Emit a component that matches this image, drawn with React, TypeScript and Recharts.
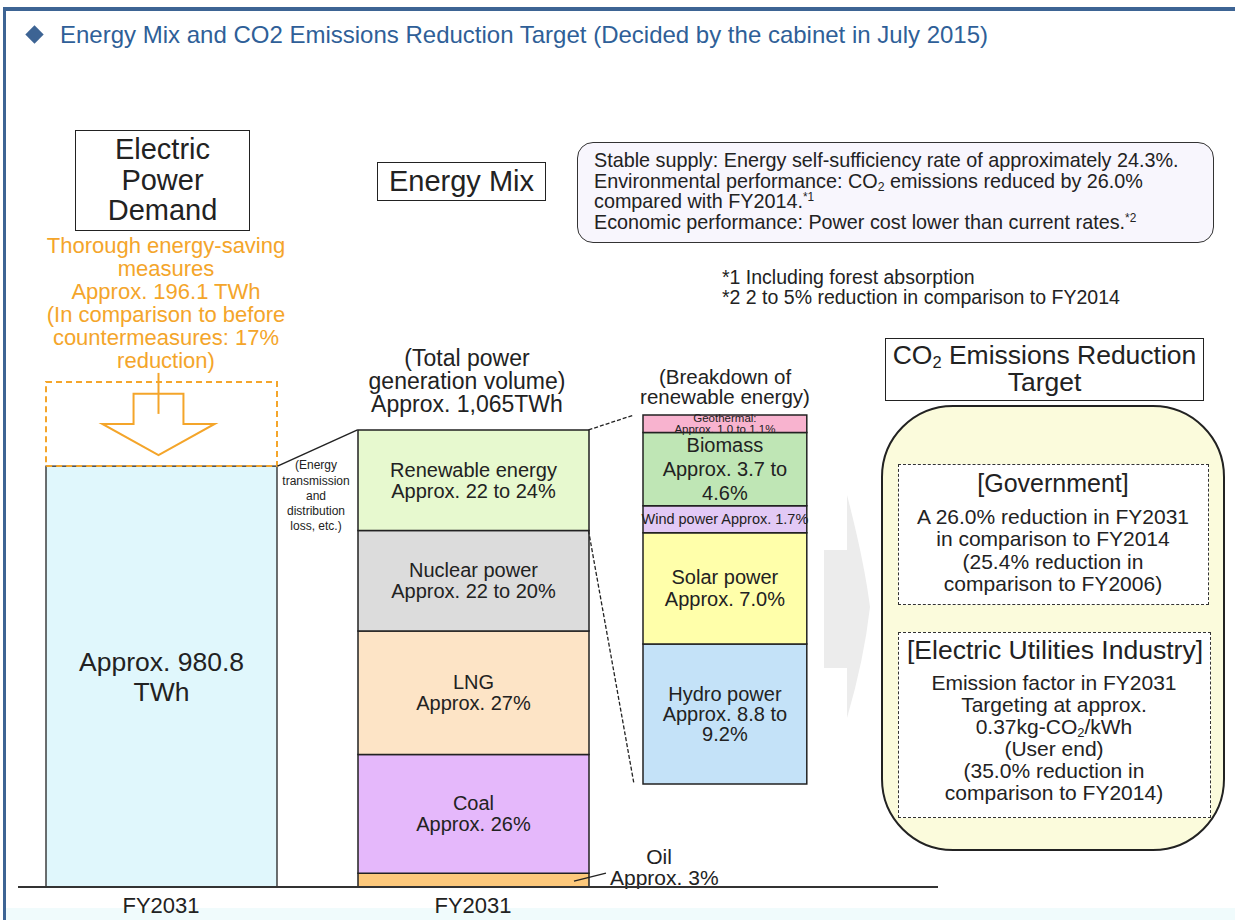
import React from "react"
import { Bar, BarChart, LabelList, XAxis, YAxis } from "recharts"

const FONT = '"Liberation Sans", Arial, sans-serif'
const ORANGE = "#f4a52a"
const NAVY = "#3d6494"

// Electric power demand (TWh)
const demandTWh = 980.8
const savingTWh = 196.1
const totalGenerationTWh = 1065

// Energy mix, share of total generation (%)
const mixKeys = ["oil", "coal", "lng", "nuclear", "renewable"]
const mixShares = [3, 26, 27, 22, 22]
const mixLabels = [
  ["Oil", "Approx. 3%"],
  ["Coal", "Approx. 26%"],
  ["LNG", "Approx. 27%"],
  ["Nuclear power", "Approx. 22 to 20%"],
  ["Renewable energy", "Approx. 22 to 24%"],
]
const mixColors = ["#fdc97c", "#e5b8fb", "#fde4c6", "#dcdcdc", "#e7f9cf"]

// Breakdown of renewable energy (%)
const renewKeys = ["hydro", "solar", "wind", "biomass", "geothermal"]
const renewShares = [8.8, 7.0, 1.7, 4.6, 1.1]
const renewLabels = [
  ["Hydro power", "Approx. 8.8 to", "9.2%"],
  ["Solar power", "Approx. 7.0%"],
  ["Wind power Approx. 1.7%"],
  ["Biomass", "Approx. 3.7 to", "4.6%"],
  ["Geothermal:", "Approx. 1.0 to 1.1%"],
]
const renewColors = ["#c4e2f8", "#ffffaa", "#e2c9f5", "#bfe6b5", "#f8b3cf"]
const renewFont = [20, 20, 14.5, 20, 11.5]
const renewGap = [20, 22, 14, 24, 11]

const tickLabels = ["FY2031", "FY2031"]

// chart tables
const mixRow: Record<string, any> = { name: "mix" }
mixKeys.forEach((k, i) => (mixRow[k] = (totalGenerationTWh * mixShares[i]) / 100))
const mainData = [{ name: "demand", demand: demandTWh, saving: savingTWh }, mixRow]

const renewRow: Record<string, any> = { name: "renew" }
renewKeys.forEach((k, i) => (renewRow[k] = renewShares[i]))
const renewData = [renewRow]

// layout of the two charts
const C1 = { left: 5, top: 362, width: 624, extraRight: 160, mTop: 10, plotH: 515, axisH: 32, max: 1200, bar: 231 }
const C2 = { left: 634, top: 415, width: 182, height: 369, pad: 14 }
const band1 = C1.width / mainData.length
const cx1 = (i: number) => C1.left + band1 * (i + 0.5)
const y1 = (v: number) => C1.top + C1.mTop + C1.plotH * (1 - v / C1.max)

const lineLabel = (lines: string[], size: number, gap: number) => (props: any) => {
  const vb = props.viewBox ?? props
  const { x, y, width, height } = vb
  if (!height || Math.abs(height) < 0.5) return null
  const cx = x + width / 2
  const top = y + height / 2 - (gap * (lines.length - 1)) / 2
  return (
    <g>
      {lines.map((l, i) => (
        <text key={i} x={cx} y={top + i * gap} textAnchor="middle" dominantBaseline="central" fontSize={size} fill="#222">
          {l}
        </text>
      ))}
    </g>
  )
}

const oilLabel = (props: any) => {
  const vb = props.viewBox ?? props
  const { x, y, width, height } = vb
  if (!height || Math.abs(height) < 0.5) return null
  const rx = x + width
  const cy = y + height / 2
  return (
    <g fontSize={21} fill="#222">
      <line x1={rx - 15} y1={cy + 1} x2={rx + 17} y2={cy - 7} stroke="#222" strokeWidth={1.3} />
      <text x={rx + 70} y={cy - 24} textAnchor="middle" dominantBaseline="central">
        {mixLabels[0][0]}
      </text>
      <text x={rx + 21} y={cy - 3} dominantBaseline="central">
        {mixLabels[0][1]}
      </text>
    </g>
  )
}

const SavingShape = (props: any) => {
  const { x, y, width, height, payload } = props
  if (!payload || payload.saving == null || !height) return null
  const cx = x + width / 2 - 3
  const sh = width * 0.108
  const hh = width * 0.243
  const ys = y + height * 0.14
  const yh = y + height * 0.5
  const yt = y + height * 0.87
  return (
    <g>
      <rect x={x} y={y} width={width} height={height} fill="none" stroke={ORANGE} strokeWidth={2} strokeDasharray="6 4" />
      <path
        d={`M${cx - sh},${ys} L${cx + sh},${ys} L${cx + sh},${yh} L${cx + hh},${yh} L${cx},${yt} L${cx - hh},${yh} L${cx - sh},${yh} Z`}
        fill="#fff"
        stroke={ORANGE}
        strokeWidth={2}
      />
      <line x1={cx} y1={y - 9} x2={cx} y2={y + height * 0.38} stroke={ORANGE} strokeWidth={2} />
    </g>
  )
}

type TBProps = { x: number; y: number; lines: React.ReactNode[]; size: number; lh: number; color?: string; w?: number }
const TextBlock = ({ x, y, lines, size, lh, color = "#222", w = 500 }: TBProps) => (
  <div
    style={{
      position: "absolute",
      left: x - w / 2,
      top: y - lh / 2,
      width: w,
      textAlign: "center",
      fontSize: size,
      lineHeight: `${lh}px`,
      color,
      whiteSpace: "nowrap",
    }}
  >
    {lines.map((l, i) => (
      <div key={i}>{l}</div>
    ))}
  </div>
)

const Sub = ({ children }: { children: React.ReactNode }) => (
  <span style={{ fontSize: "0.62em", position: "relative", top: "0.25em", lineHeight: 0 }}>{children}</span>
)
const Sup = ({ children }: { children: React.ReactNode }) => (
  <span style={{ fontSize: "0.6em", position: "relative", top: "-0.6em", lineHeight: 0 }}>{children}</span>
)

export default function App() {
  const renewTop = totalGenerationTWh
  const renewBottom = totalGenerationTWh - mixRow.renewable
  const lx = cx1(0) + C1.bar / 2
  const mxl = cx1(1) - C1.bar / 2
  const mxr = cx1(1) + C1.bar / 2

  return (
    <div
      style={{
        position: "absolute",
        left: 0,
        top: 0,
        width: 1235,
        height: 920,
        overflow: "hidden",
        background: "#fff",
        fontFamily: FONT,
        color: "#222",
      }}
    >
      {/* frame */}
      <div style={{ position: "absolute", left: 6, top: 908, width: 1229, height: 12, background: "#f0fbfc" }} />
      <div
        style={{
          position: "absolute",
          left: 3,
          top: 7,
          width: 1260,
          height: 940,
          borderTop: `4px solid ${NAVY}`,
          borderLeft: `3px solid ${NAVY}`,
        }}
      />

      {/* title */}
      <div
        style={{
          position: "absolute",
          left: 28,
          top: 28,
          width: 13,
          height: 13,
          background: NAVY,
          transform: "rotate(45deg)",
        }}
      />
      <div style={{ position: "absolute", left: 60, top: 21, fontSize: 24, color: "#2f5f98", whiteSpace: "nowrap" }}>
        Energy Mix and CO2 Emissions Reduction Target (Decided by the cabinet in July 2015)
      </div>

      {/* demand header */}
      <div
        style={{
          position: "absolute",
          left: 75,
          top: 130,
          width: 175,
          height: 101,
          boxSizing: "border-box",
          border: "1.5px solid #222",
          textAlign: "center",
          fontSize: 29,
          lineHeight: "30.5px",
          paddingTop: 3,
        }}
      >
        Electric
        <br />
        Power
        <br />
        Demand
      </div>
      <TextBlock
        x={166}
        y={245}
        size={22}
        lh={23}
        color={ORANGE}
        lines={[
          "Thorough energy-saving",
          "measures",
          "Approx.  196.1 TWh",
          "(In comparison to before",
          "countermeasures: 17%",
          "reduction)",
        ]}
      />

      {/* energy mix header */}
      <div
        style={{
          position: "absolute",
          left: 377,
          top: 162,
          width: 169,
          height: 39,
          boxSizing: "border-box",
          border: "1.5px solid #222",
          textAlign: "center",
          fontSize: 29,
          lineHeight: "36px",
        }}
      >
        Energy Mix
      </div>
      <div
        style={{
          position: "absolute",
          left: 577,
          top: 142,
          width: 637,
          height: 101,
          boxSizing: "border-box",
          border: "1.5px solid #333",
          borderRadius: 16,
          background: "#f8f6fd",
          paddingLeft: 16,
          paddingTop: 7,
          fontSize: 19.8,
          lineHeight: "20.7px",
          whiteSpace: "nowrap",
        }}
      >
        <div>Stable supply: Energy self-sufficiency rate of approximately 24.3%.</div>
        <div>
          Environmental performance: CO<Sub>2</Sub> emissions reduced by 26.0%
        </div>
        <div>
          compared with FY2014.<Sup>*1</Sup>
        </div>
        <div>
          Economic performance: Power cost lower than current rates.<Sup>*2</Sup>
        </div>
      </div>
      <div style={{ position: "absolute", left: 722, top: 267, fontSize: 19.5, lineHeight: "20px", whiteSpace: "nowrap" }}>
        <div>*1 Including forest absorption</div>
        <div>*2 2 to 5% reduction in comparison to FY2014</div>
      </div>

      <TextBlock x={467} y={358} size={23} lh={23} lines={["(Total power", "generation volume)", "Approx.  1,065TWh"]} />
      <TextBlock x={725} y={377} size={20.5} lh={20.5} lines={["(Breakdown of", "renewable energy)"]} />
      <TextBlock
        x={316}
        y={466}
        size={12}
        lh={15.2}
        w={120}
        lines={["(Energy", "transmission", "and", "distribution", "loss,  etc.)"]}
      />

      {/* demand + generation chart */}
      <div style={{ position: "absolute", left: C1.left, top: C1.top }}>
        <BarChart
          width={C1.width + C1.extraRight}
          height={C1.mTop + C1.plotH + C1.axisH}
          data={mainData}
          margin={{ top: C1.mTop, right: C1.extraRight, bottom: 0, left: 0 }}
          barSize={C1.bar}
        >
          <XAxis
            dataKey="name"
            axisLine={false}
            tickLine={false}
            interval={0}
            height={C1.axisH}
            tickMargin={4}
            tick={{ fontSize: 22, fill: "#222" }}
            tickFormatter={(_v: any, i: number) => tickLabels[i]}
          />
          <YAxis hide domain={[0, C1.max]} />
          <Bar dataKey="demand" stackId="a" fill="#e0f7fc" stroke="#222" strokeWidth={1.3} isAnimationActive={false}>
            <LabelList dataKey="demand" content={lineLabel(["Approx. 980.8", "TWh"], 26.5, 30)} />
          </Bar>
          <Bar dataKey="saving" stackId="a" shape={SavingShape} isAnimationActive={false} />
          {mixKeys.map((k, i) => (
            <Bar key={k} dataKey={k} stackId="a" fill={mixColors[i]} stroke="#222" strokeWidth={1.5} isAnimationActive={false}>
              <LabelList dataKey={k} content={i === 0 ? oilLabel : lineLabel(mixLabels[i], 20, 21)} />
            </Bar>
          ))}
        </BarChart>
      </div>

      {/* renewable breakdown chart */}
      <div style={{ position: "absolute", left: C2.left, top: C2.top - C2.pad }}>
        <BarChart
          width={C2.width}
          height={C2.height + C2.pad * 2}
          data={renewData}
          margin={{ top: C2.pad, right: 0, bottom: C2.pad, left: 0 }}
          barSize={C2.width}
        >
          <XAxis dataKey="name" hide />
          <YAxis hide domain={[0, "dataMax"]} />
          {renewKeys.map((k, i) => (
            <Bar key={k} dataKey={k} stackId="r" fill={renewColors[i]} stroke="#222" strokeWidth={1.5} isAnimationActive={false}>
              <LabelList dataKey={k} content={lineLabel(renewLabels[i], renewFont[i], renewGap[i])} />
            </Bar>
          ))}
        </BarChart>
      </div>

      {/* connectors, arrow, baseline */}
      <svg width={1235} height={920} style={{ position: "absolute", left: 0, top: 0, pointerEvents: "none" }}>
        <line x1={18} y1={y1(0)} x2={938} y2={y1(0)} stroke="#333" strokeWidth={2} />
        <line x1={lx + 1} y1={y1(demandTWh)} x2={mxl} y2={y1(renewTop)} stroke="#222" strokeWidth={1.5} />
        <line x1={mxr} y1={y1(renewTop)} x2={C2.left} y2={C2.top} stroke="#222" strokeWidth={1.3} strokeDasharray="4 2" />
        <line x1={mxr} y1={y1(renewBottom)} x2={C2.left} y2={C2.top + C2.height} stroke="#222" strokeWidth={1.3} strokeDasharray="4 2" />
        <path d="M824,550 L847,550 L847,495 Q864,560 870,607 Q864,660 847,718 L847,668 L824,668 Z" fill="#ececec" />
      </svg>

      {/* CO2 target */}
      <div
        style={{
          position: "absolute",
          left: 881,
          top: 405,
          width: 344,
          height: 446,
          boxSizing: "border-box",
          border: "2px solid #222",
          borderRadius: 72,
          background: "#fbfbdc",
        }}
      />
      <div
        style={{
          position: "absolute",
          left: 885,
          top: 338,
          width: 319,
          height: 63,
          boxSizing: "border-box",
          border: "1.5px solid #222",
          background: "#fff",
          textAlign: "center",
          fontSize: 26.5,
          lineHeight: "27px",
          paddingTop: 3,
          whiteSpace: "nowrap",
        }}
      >
        CO<Sub>2</Sub> Emissions Reduction
        <br />
        Target
      </div>
      <div
        style={{
          position: "absolute",
          left: 898,
          top: 464,
          width: 311,
          height: 141,
          boxSizing: "border-box",
          border: "1.5px dashed #333",
          background: "#fff",
        }}
      />
      <TextBlock x={1053} y={483} size={25} lh={26} lines={["[Government]"]} />
      <TextBlock
        x={1053}
        y={517}
        size={21}
        lh={22.6}
        lines={["A 26.0% reduction in FY2031", "in comparison to FY2014", "(25.4% reduction in", "comparison to FY2006)"]}
      />
      <div
        style={{
          position: "absolute",
          left: 898,
          top: 632,
          width: 313,
          height: 186,
          boxSizing: "border-box",
          border: "1.5px dashed #333",
          background: "#fff",
        }}
      />
      <TextBlock x={1055} y={650} size={26.5} lh={27} lines={["[Electric Utilities Industry]"]} />
      <TextBlock
        x={1054}
        y={683}
        size={21}
        lh={22}
        lines={[
          "Emission factor in FY2031",
          "Targeting at approx.",
          <>
            0.37kg-CO<Sub>2</Sub>/kWh
          </>,
          "(User end)",
          "(35.0% reduction in",
          "comparison to FY2014)",
        ]}
      />
    </div>
  )
}
